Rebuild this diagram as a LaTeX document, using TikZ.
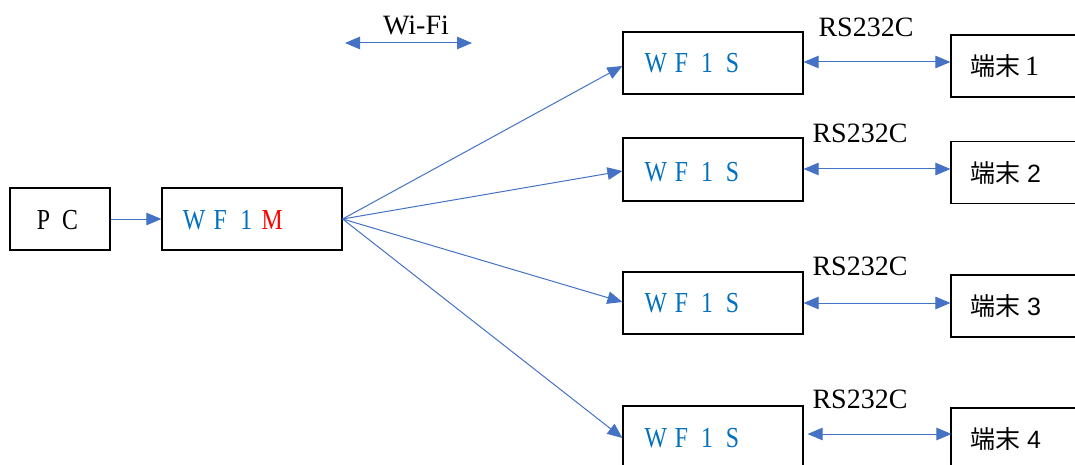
\documentclass[tikz,border=0pt]{standalone}
\usepackage{fontspec}
\setmainfont{Liberation Serif}
\newfontfamily\cjkfont{Noto Sans CJK JP}
\newfontfamily\digsans{Liberation Sans}
\usetikzlibrary{arrows.meta}
\definecolor{lineblue}{HTML}{4472C4}
\definecolor{txtblue}{HTML}{0070C0}
\definecolor{txtred}{HTML}{FF0000}
\newcommand\fwc[2][26pt]{\makebox[#1]{\scalebox{0.82}[1]{#2}}}
\begin{document}
\begin{tikzpicture}[x=1pt,y=-1pt,
  box/.style={draw=black,line width=1.2pt,minimum width=180pt,minimum height=62pt,inner sep=0pt},
  lbl/.style={inner sep=0pt,font=\fontsize{29}{33}\selectfont},
  rslbl/.style={inner sep=0pt,font=\fontsize{28}{32}\selectfont},
  tlbl/.style={inner sep=0pt,anchor=west},
  conn/.style={draw=lineblue,line width=1pt,-{Triangle[length=15pt,width=12.5pt]}},
  conntwo/.style={draw=lineblue,line width=1pt,{Triangle[length=15pt,width=12.5pt]}-{Triangle[length=15pt,width=12.5pt]}}
]
\clip (0,0) rectangle (1075,465);
\fill[white] (0,0) rectangle (1075,465);

% boxes
\node[box,minimum width=100pt] (pc) at (60,219) {};
\node[box] (m) at (252,219) {};
\node[box] (s1) at (713,63) {};
\node[box,minimum height=63pt] (s2) at (713,169.5) {};
\node[box] (s3) at (713,303) {};
\node[box] (s4) at (713,437) {};
\node[box,minimum width=150pt] (t1) at (1026,66) {};
\node[box,minimum width=150pt] (t2) at (1026,172.5) {};
\node[box,minimum width=150pt] (t3) at (1026,306) {};
\node[box,minimum width=150pt] (t4) at (1026,439) {};

% box texts
\node[lbl,anchor=west] (pct) at (30,220) {\fwc[26.5pt]{P}\fwc[26.5pt]{C}};
\node[lbl,anchor=west] (mt) at (181,220) {\color{txtblue}\fwc{W}\fwc{F}\fwc{1}\color{txtred}\fwc{M}};
\node[lbl,anchor=west] (s1t) at (643,63) {\color{txtblue}\fwc[25.5pt]{W}\fwc[25.5pt]{F}\fwc[25.5pt]{1}\fwc[25.5pt]{S}};
\node[lbl,anchor=west] (s2t) at (643,172) {\color{txtblue}\fwc[25.5pt]{W}\fwc[25.5pt]{F}\fwc[25.5pt]{1}\fwc[25.5pt]{S}};
\node[lbl,anchor=west] (s3t) at (643,303) {\color{txtblue}\fwc[25.5pt]{W}\fwc[25.5pt]{F}\fwc[25.5pt]{1}\fwc[25.5pt]{S}};
\node[lbl,anchor=west] (s4t) at (643,438) {\color{txtblue}\fwc[25.5pt]{W}\fwc[25.5pt]{F}\fwc[25.5pt]{1}\fwc[25.5pt]{S}};

\node[tlbl] (t1t) at (970,66) {{\cjkfont\fontsize{25}{29}\selectfont 端末}\hspace{5pt}{\fontsize{28}{32}\selectfont 1}};
\node[tlbl] (t2t) at (970,173) {{\cjkfont\fontsize{25}{29}\selectfont 端末}\hspace{7pt}{\digsans\fontsize{25}{29}\selectfont 2}};
\node[tlbl] (t3t) at (970,306) {{\cjkfont\fontsize{25}{29}\selectfont 端末}\hspace{7pt}{\digsans\fontsize{25}{29}\selectfont 3}};
\node[tlbl] (t4t) at (970,439) {{\cjkfont\fontsize{25}{29}\selectfont 端末}\hspace{7pt}{\digsans\fontsize{25}{29}\selectfont 4}};

% labels
\node[rslbl] (wifi) at (416,25) {Wi-Fi};
\node[rslbl] (rs1) at (866,27) {RS232C};
\node[rslbl] (rs2) at (860,133) {RS232C};
\node[rslbl] (rs3) at (860,266) {RS232C};
\node[rslbl] (rs4) at (860,399) {RS232C};

% connectors
\coordinate (w1) at (345,43);
\coordinate (w2) at (472,43);
\draw[conntwo] (w1) -- (w2);
\draw[conn] (pc.east) -- (m.west);
\draw[conn] (m.east) -- (s1.west |- 0,66);
\draw[conn] (m.east) -- (s2.west |- 0,171);
\draw[conn] (m.east) -- (s3.west |- 0,302);
\draw[conn] (m.east) -- (s4.west |- 0,438);
\draw[conntwo] (s1.east |- 0,62) -- (t1.west |- 0,62);
\draw[conntwo] (s2.east |- 0,169) -- (t2.west |- 0,169);
\draw[conntwo] (s3.east |- 0,303) -- (t3.west |- 0,303);
\draw[conntwo] ([xshift=4pt]s4.east |- 0,434) -- ([xshift=1pt]t4.west |- 0,434);
\end{tikzpicture}
\end{document}
